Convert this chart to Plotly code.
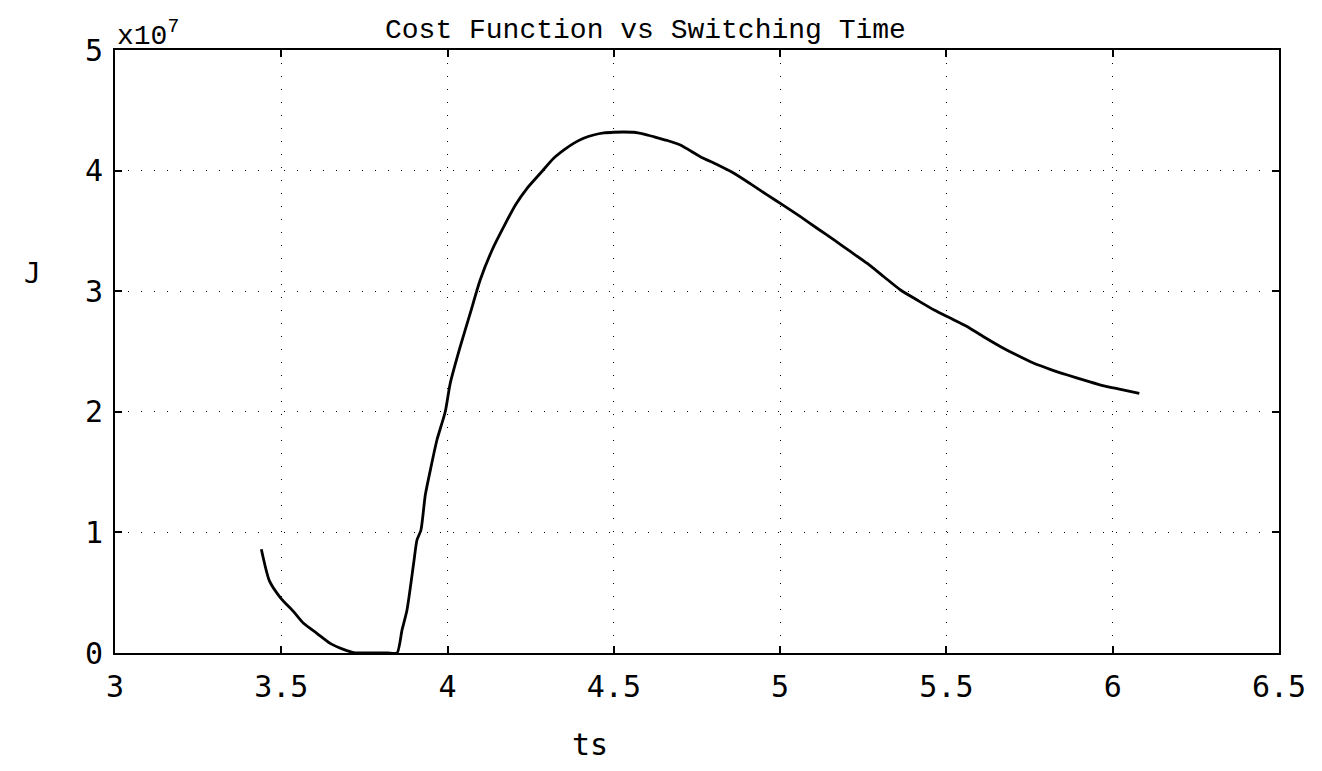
import plotly.graph_objects as go

# Switching time ts and cost J (in units of 1e7)
ts = [3.440, 3.464, 3.497, 3.537, 3.567, 3.607, 3.647, 3.687, 3.717, 3.737,
      3.780, 3.820, 3.848, 3.863, 3.878, 3.898, 3.908, 3.920, 3.933, 3.950,
      3.968, 3.993, 4.008, 4.038, 4.068, 4.098, 4.134, 4.169, 4.204, 4.239,
      4.279, 4.319, 4.349, 4.379, 4.409, 4.439, 4.470, 4.500, 4.530, 4.560,
      4.590, 4.620, 4.660, 4.700, 4.760, 4.810, 4.861, 4.911, 4.961, 5.011,
      5.061, 5.112, 5.162, 5.212, 5.262, 5.312, 5.362, 5.413, 5.463, 5.513,
      5.563, 5.613, 5.663, 5.713, 5.763, 5.814, 5.864, 5.914, 5.964, 6.020,
      6.080]
J_1e7 = [0.86, 0.60, 0.46, 0.343, 0.246, 0.163, 0.080, 0.030, 0.003, 0.0,
         0.0, 0.0, 0.0, 0.19, 0.357, 0.744, 0.937, 1.02, 1.31, 1.54,
         1.766, 2.0, 2.236, 2.54, 2.816, 3.093, 3.342, 3.535, 3.715, 3.853,
         3.978, 4.102, 4.170, 4.226, 4.268, 4.295, 4.312, 4.318, 4.320, 4.318,
         4.303, 4.281, 4.250, 4.212, 4.115, 4.050, 3.978, 3.890, 3.798, 3.710,
         3.618, 3.520, 3.425, 3.328, 3.230, 3.120, 3.010, 2.925, 2.844, 2.775,
         2.706, 2.620, 2.540, 2.468, 2.402, 2.350, 2.305, 2.262, 2.222, 2.188,
         2.153]

x_ticks = [3, 3.5, 4, 4.5, 5, 5.5, 6, 6.5]
x_tick_labels = ["3", "3.5", "4", "4.5", "5", "5.5", "6", "6.5"]
y_ticks = [0, 1, 2, 3, 4, 5]
y_tick_labels = ["0", "1", "2", "3", "4", "5"]

tick_font = dict(family="DejaVu Sans Mono", size=30, color="black")

fig = go.Figure()
fig.add_trace(go.Scatter(x=ts, y=J_1e7, mode="lines",
                         line=dict(color="black", width=2.8, shape="spline", smoothing=0.6),
                         showlegend=False, hoverinfo="skip"))

fig.update_layout(
    width=1322, height=771,
    margin=dict(l=115, r=43, t=50, b=118),
    paper_bgcolor="white", plot_bgcolor="white",
)
fig.update_xaxes(
    range=[3, 6.5], tickvals=x_ticks, ticktext=x_tick_labels,
    tickfont=tick_font, ticks="inside", ticklen=7, tickwidth=2, tickcolor="black",
    showline=True, linecolor="black", linewidth=2, mirror="ticks",
    showgrid=True, gridcolor="black", gridwidth=1, griddash="1px,12px",
    zeroline=False, ticklabelstandoff=6,
)
fig.update_yaxes(
    range=[0, 5], tickvals=y_ticks, ticktext=y_tick_labels,
    tickfont=tick_font, ticks="inside", ticklen=7, tickwidth=2, tickcolor="black",
    showline=True, linecolor="black", linewidth=2, mirror="ticks",
    showgrid=True, gridcolor="black", gridwidth=1, griddash="1px,12px",
    zeroline=False, ticklabelstandoff=4,
)
# Title (slightly left of plot centre, as in the reference)
fig.add_annotation(text="Cost Function vs Switching Time", xref="paper", yref="paper",
                   x=0.4555, y=1.0, showarrow=False, xanchor="center", yanchor="bottom",
                   yshift=2,
                   font=dict(family="Liberation Mono", size=28, color="black"))
# Axis labels
fig.add_annotation(text="ts", xref="paper", yref="paper", x=0.408, y=-0.152,
                   showarrow=False, xanchor="center", yanchor="middle",
                   font=dict(family="DejaVu Sans Mono", size=30, color="black"))
fig.add_annotation(text="J", xref="paper", yref="paper", x=-0.071, y=0.63,
                   showarrow=False, xanchor="center", yanchor="middle",
                   font=dict(family="DejaVu Sans Mono", size=28, color="black"))
fig.add_annotation(text="x10<sup>7</sup>", xref="paper", yref="paper", x=0.0, y=1.0,
                   showarrow=False, xanchor="left", yanchor="bottom", yshift=-4,
                   font=dict(family="Liberation Mono", size=28, color="black"))

fig.write_html("out.html")
